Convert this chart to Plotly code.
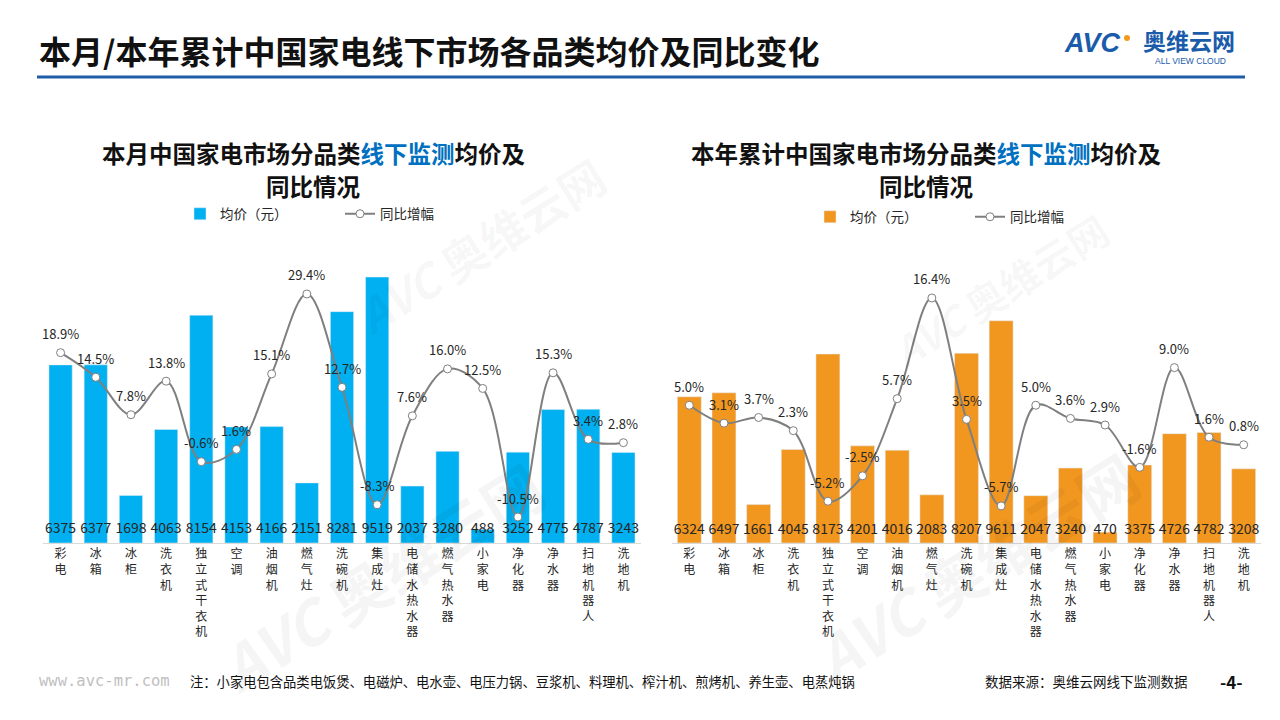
import plotly.graph_objects as go

W, H = 1280, 720
OFF = 8  # default page margin of the html body

categories = ["彩电", "冰箱", "冰柜", "洗衣机", "独立式干衣机", "空调", "油烟机", "燃气灶", "洗碗机",
              "集成灶", "电储水热水器", "燃气热水器", "小家电", "净化器", "净水器", "扫地机器人", "洗地机"]

month_price = [6375, 6377, 1698, 4063, 8154, 4153, 4166, 2151, 8281, 9519, 2037, 3280, 488, 3252, 4775, 4787, 3243]
month_yoy = [18.9, 14.5, 7.8, 13.8, -0.6, 1.6, 15.1, 29.4, 12.7, -8.3, 7.6, 16.0, 12.5, -10.5, 15.3, 3.4, 2.8]

ytd_price = [6324, 6497, 1661, 4045, 8173, 4201, 4016, 2083, 8207, 9611, 2047, 3240, 470, 3375, 4726, 4782, 3208]
ytd_yoy = [5.0, 3.1, 3.7, 2.3, -5.2, -2.5, 5.7, 16.4, 3.5, -5.7, 5.0, 3.6, 2.9, -1.6, 9.0, 1.6, 0.8]

vertical_ticks = ["<br>".join(list(c)) for c in categories]

FONT = "Noto Sans CJK SC"
BLUE_BAR = "#00B0F0"
ORANGE_BAR = "#F1961F"
LINE_GREY = "#7F7F7F"
TXT = "#262626"


def px_x(p):
    return (p - OFF) / W


def px_y(p):
    return 1 - (p - OFF) / H


fig = go.Figure()

# ---- left chart (this month) ----
fig.add_trace(go.Bar(x=categories, y=month_price, name="均价（元）", marker_color=BLUE_BAR,
                     width=0.66, xaxis="x", yaxis="y", legend="legend", hoverinfo="skip"))
fig.add_trace(go.Scatter(x=categories, y=[500] * len(categories), mode="text",
                         text=[str(v) for v in month_price], textposition="middle center",
                         textfont=dict(size=14, color=TXT, family=FONT), showlegend=False,
                         xaxis="x", yaxis="y", cliponaxis=False, hoverinfo="skip"))
fig.add_trace(go.Scatter(x=categories, y=month_yoy, name="同比增幅", mode="lines+markers",
                         line=dict(color=LINE_GREY, width=2, shape="spline", smoothing=1),
                         marker=dict(size=8, color="white", line=dict(color=LINE_GREY, width=1)),
                         xaxis="x", yaxis="y2", legend="legend", cliponaxis=False, hoverinfo="skip"))

# ---- right chart (year to date) ----
fig.add_trace(go.Bar(x=categories, y=ytd_price, name="均价（元）", marker_color=ORANGE_BAR,
                     width=0.69, xaxis="x2", yaxis="y3", legend="legend2", hoverinfo="skip"))
fig.add_trace(go.Scatter(x=categories, y=[540] * len(categories), mode="text",
                         text=[str(v) for v in ytd_price], textposition="middle center",
                         textfont=dict(size=14, color=TXT, family=FONT), showlegend=False,
                         xaxis="x2", yaxis="y3", cliponaxis=False, hoverinfo="skip"))
fig.add_trace(go.Scatter(x=categories, y=ytd_yoy, name="同比增幅", mode="lines+markers",
                         line=dict(color=LINE_GREY, width=2, shape="spline", smoothing=1),
                         marker=dict(size=8, color="white", line=dict(color=LINE_GREY, width=1)),
                         xaxis="x2", yaxis="y4", legend="legend2", cliponaxis=False, hoverinfo="skip"))

annotations = []

# watermarks (very light)
for (wx, wy, ws) in [(480, 245, 46), (1000, 290, 40), (380, 575, 60), (975, 565, 60)]:
    annotations.append(dict(x=px_x(wx), y=px_y(wy), xref="paper", yref="paper", showarrow=False,
                            xanchor="center", yanchor="middle",
                            text="<b><i>AVC</i> 奥维云网</b>", textangle=-32,
                            font=dict(size=ws, color="rgba(0,0,0,0.04)", family=FONT)))

for c, v in zip(categories, month_yoy):
    annotations.append(dict(x=c, y=v, xref="x", yref="y2", text=f"{v:.1f}%", showarrow=False,
                            yshift=19, font=dict(size=13, color=TXT, family=FONT)))
for c, v in zip(categories, ytd_yoy):
    annotations.append(dict(x=c, y=v, xref="x2", yref="y4", text=f"{v:.1f}%", showarrow=False,
                            yshift=19, font=dict(size=13, color=TXT, family=FONT)))

# main title
annotations.append(dict(x=px_x(37), y=px_y(50), xref="paper", yref="paper", xanchor="left", yanchor="middle",
                        showarrow=False, text="<b>本月/本年累计中国家电线下市场各品类均价及同比变化</b>",
                        font=dict(size=32, color="#111111", family=FONT)))
# logo
annotations.append(dict(x=px_x(1062), y=px_y(43), xref="paper", yref="paper", xanchor="left", yanchor="middle",
                        showarrow=False, text="<b><i>AVC</i></b>",
                        font=dict(size=27, color="#1A5BAA", family="Liberation Sans")))
annotations.append(dict(x=px_x(1141), y=px_y(40), xref="paper", yref="paper", xanchor="left", yanchor="middle",
                        showarrow=False, text="<b>奥维云网</b>",
                        font=dict(size=23, color="#1A5BAA", family=FONT)))
annotations.append(dict(x=px_x(1190), y=px_y(61), xref="paper", yref="paper", xanchor="center", yanchor="middle",
                        showarrow=False, text="ALL VIEW CLOUD",
                        font=dict(size=8.5, color="#1A5BAA", family="Liberation Sans")))

# chart titles (two separate lines)
BL = "#0070C0"
for cx, line1 in [(313, "本月中国家电市场分品类"), (926, "本年累计中国家电市场分品类")]:
    annotations.append(dict(x=px_x(cx), y=px_y(153), xref="paper", yref="paper", showarrow=False,
                            xanchor="center", yanchor="middle",
                            text=f"<b>{line1}<span style='color:{BL}'>线下监测</span>均价及</b>",
                            font=dict(size=23.5, color="#111111", family=FONT)))
    annotations.append(dict(x=px_x(cx), y=px_y(186), xref="paper", yref="paper", showarrow=False,
                            xanchor="center", yanchor="middle",
                            text="<b>同比情况</b>", font=dict(size=23.5, color="#111111", family=FONT)))

# footer
annotations.append(dict(x=px_x(37), y=px_y(681), xref="paper", yref="paper", xanchor="left", yanchor="middle",
                        showarrow=False, text="www.avc-mr.com",
                        font=dict(size=15.5, color="#C0C0C0", family="DejaVu Sans Mono")))
annotations.append(dict(x=px_x(188), y=px_y(681), xref="paper", yref="paper", xanchor="left", yanchor="middle",
                        showarrow=False,
                        text="注：小家电包含品类电饭煲、电磁炉、电水壶、电压力锅、豆浆机、料理机、榨汁机、煎烤机、养生壶、电蒸炖锅",
                        font=dict(size=13.3, color="#111111", family=FONT)))
annotations.append(dict(x=px_x(1190), y=px_y(681), xref="paper", yref="paper", xanchor="right", yanchor="middle",
                        showarrow=False, text="数据来源：奥维云网线下监测数据",
                        font=dict(size=13.5, color="#111111", family=FONT)))
annotations.append(dict(x=px_x(1231), y=px_y(681), xref="paper", yref="paper", xanchor="center", yanchor="middle",
                        showarrow=False, text="<b>-4-</b>", font=dict(size=17, color="#111111", family=FONT)))

shapes = [
    dict(type="line", xref="paper", yref="paper", x0=px_x(37), x1=px_x(1245), y0=px_y(77), y1=px_y(77),
         line=dict(color="#1F5CA8", width=3)),
    dict(type="circle", xref="paper", yref="paper", x0=px_x(1124), x1=px_x(1130), y0=px_y(41), y1=px_y(35),
         fillcolor="#F39A1E", line=dict(width=0)),
]

YD = [px_y(543), px_y(250)]
CAT_RANGE = [-0.5, len(categories) - 0.5]
axis_x_common = dict(showline=True, linecolor="#D9D9D9", linewidth=1, ticks="", showgrid=False,
                     zeroline=False, range=CAT_RANGE, fixedrange=True, type="category",
                     tickvals=categories, ticktext=vertical_ticks, automargin=False,
                     tickfont=dict(size=12, color=TXT, family=FONT))
axis_y_common = dict(showline=False, showticklabels=False, ticks="", showgrid=False, zeroline=False,
                     fixedrange=True)

fig.update_layout(
    width=W, height=H,
    margin=dict(l=0, r=0, t=0, b=0),
    paper_bgcolor="white", plot_bgcolor="rgba(0,0,0,0)",
    font=dict(family=FONT, color=TXT),
    xaxis=dict(domain=[px_x(43), px_x(641)], anchor="y", **axis_x_common),
    yaxis=dict(domain=YD, range=[0, 10487], anchor="x", **axis_y_common),
    yaxis2=dict(range=[-15.15, 37.27], overlaying="y", anchor="x", side="right", **axis_y_common),
    xaxis2=dict(domain=[px_x(672), px_x(1261)], anchor="y3", **axis_x_common),
    yaxis3=dict(domain=YD, range=[0, 12673], anchor="x2", **axis_y_common),
    yaxis4=dict(range=[-9.64, 21.5], overlaying="y3", anchor="x2", side="right", **axis_y_common),
    legend=dict(x=px_x(180), y=px_y(214), xanchor="left", yanchor="middle", orientation="h",
                font=dict(size=13.5, color=TXT, family=FONT), entrywidth=115, bgcolor="rgba(0,0,0,0)"),
    legend2=dict(x=px_x(810), y=px_y(217), xanchor="left", yanchor="middle", orientation="h",
                 font=dict(size=13.5, color=TXT, family=FONT), entrywidth=115, bgcolor="rgba(0,0,0,0)"),
    annotations=annotations,
    shapes=shapes,
)

fig.write_html("out.html")
